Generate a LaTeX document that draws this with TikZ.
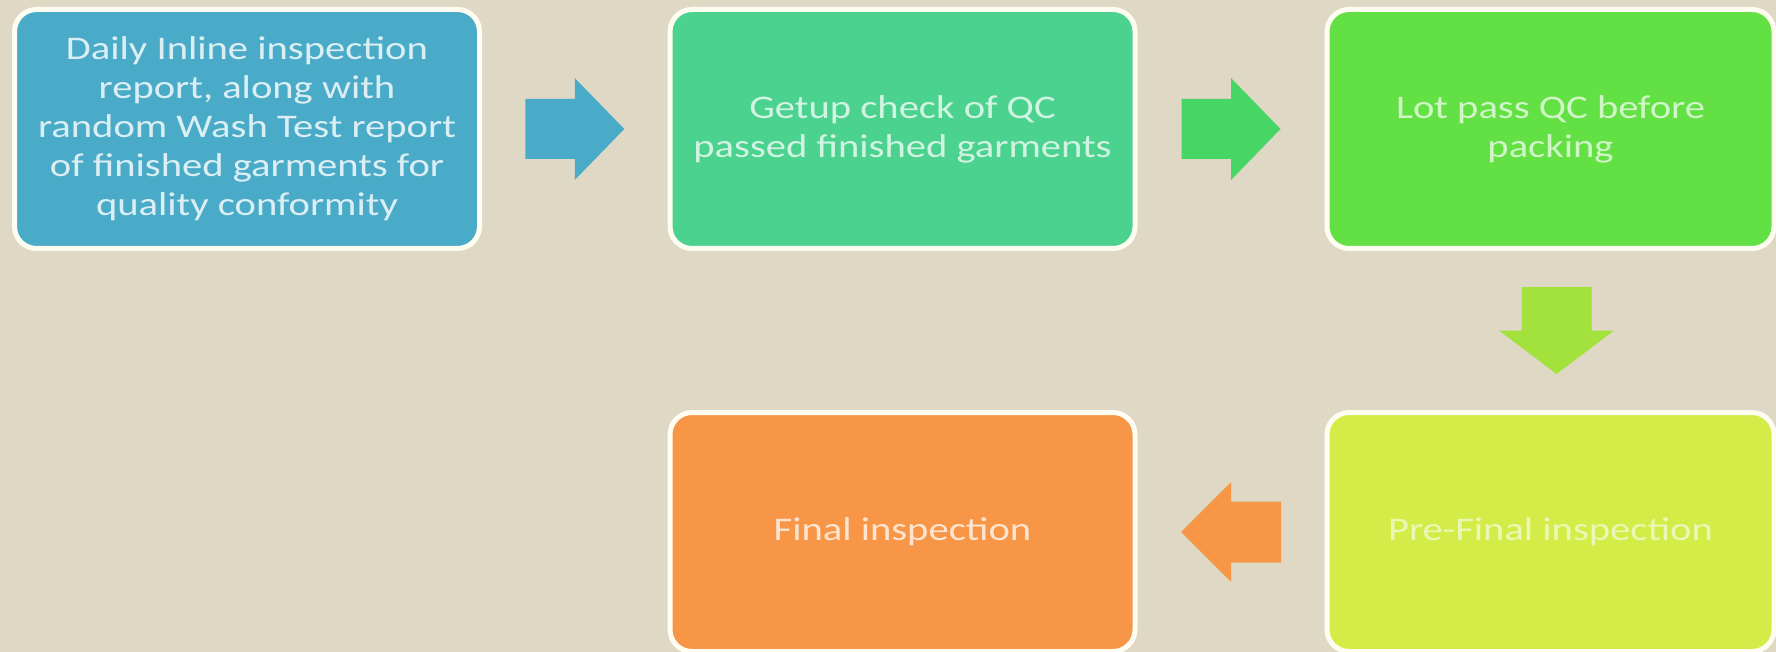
\documentclass[tikz,border=0pt]{standalone}
\usepackage{fontspec}
\usetikzlibrary{calc}
\newfontfamily\boxfont[FakeStretch=1.23]{Carlito}
\definecolor{bgC}{HTML}{DED8C5}
\definecolor{blueC}{HTML}{4AABC8}
\definecolor{tealC}{HTML}{4BD28E}
\definecolor{greenA}{HTML}{47D565}
\definecolor{limeC}{HTML}{62E044}
\definecolor{limeA}{HTML}{A3E23C}
\definecolor{yellowC}{HTML}{D4EC48}
\definecolor{orangeC}{HTML}{F79646}
\definecolor{rimC}{HTML}{FFFDF2}
\tikzset{
  stepbox/.style={draw=rimC, line width=5pt, rounded corners=22pt,
    minimum height=239pt, inner sep=0pt, align=center,
    text=white, text opacity=0.75,
    font={\boxfont\fontsize{33}{39}\selectfont}},
  pics/harrow/.style n args={4}{code={
    \fill[pic actions] (-#1,-#2) -- (#3,-#2) -- (#3,-#4) -- (#1,0) -- (#3,#4) -- (#3,#2) -- (-#1,#2) -- cycle;}}
}
\begin{document}
\begin{tikzpicture}[x=1pt,y=-1pt]
\fill[bgC] (0,0) rectangle (1776,652);
\useasboundingbox (0,0) rectangle (1776,652);
\clip (0,0) rectangle (1776,652);
\node[stepbox, fill=blueC, minimum width=465pt, text opacity=0.8] (b1) at (247,129)
  {Daily Inline inspection\\report, along with\\random Wash Test report\\of finished garments for\\quality conformity};
\node[stepbox, fill=tealC, minimum width=465pt] (b2) at (902.5,129)
  {Getup check of QC\\passed finished garments};
\node[stepbox, fill=limeC, minimum width=447pt, text opacity=0.7] (b3) at (1550.5,129)
  {Lot pass QC before\\packing};
\node[stepbox, fill=yellowC, minimum width=447pt, text opacity=0.6] (b4) at (1550.5,532)
  {Pre-Final inspection};
\node[stepbox, fill=orangeC, minimum width=465pt] (b5) at (902.5,532)
  {Final inspection};
\coordinate (m1) at ($(b1.east)!0.5!(b2.west)$);
\coordinate (m2) at ($(b2.east)!0.5!(b3.west)$);
\coordinate (m3) at ($(b3.south)!0.5!(b4.north)+(6,0)$);
\coordinate (m4) at ($(b4.west)!0.5!(b5.east)$);
\pic[fill=blueC] at (m1) {harrow={49.5}{30}{0}{51}};
\pic[fill=greenA] at (m2) {harrow={49.5}{30}{0}{51}};
\pic[fill=limeA, rotate=-90] at (m3) {harrow={43.5}{35}{0}{57.5}};
\pic[fill=orangeC, rotate=180] at (m4) {harrow={50}{30.5}{0}{50}};
\end{tikzpicture}
\end{document}
